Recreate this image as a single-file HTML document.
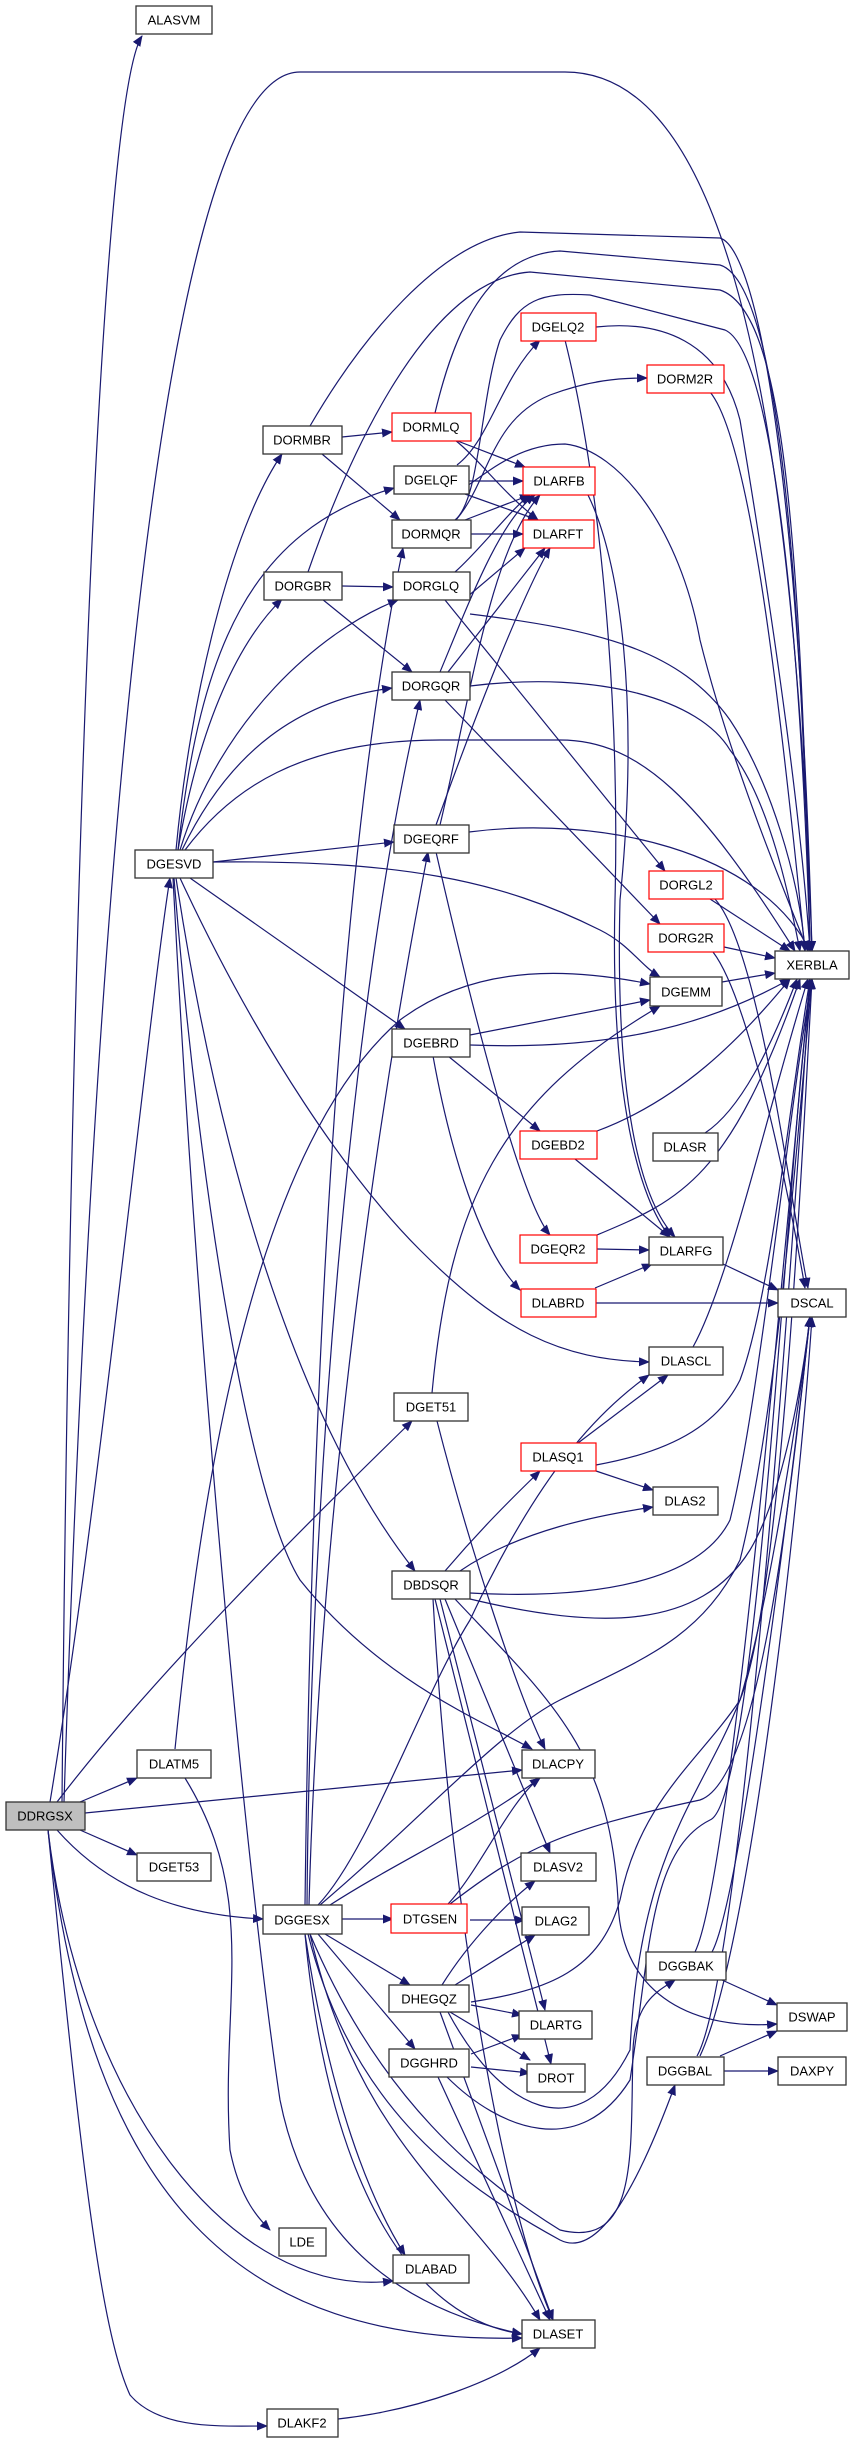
<!DOCTYPE html>
<html><head><meta charset="utf-8"><style>
html,body{margin:0;padding:0;background:#fff;}
svg{display:block;}
.e{fill:none;stroke:#191970;stroke-width:1.2;marker-end:url(#a);}
.n{fill:#fff;stroke:#333;stroke-width:1.3;}
.r{fill:#fff;stroke:#ff0000;stroke-width:1.2;}
.g{fill:#bfbfbf;stroke:#333;stroke-width:1.3;}
text{font-family:"Liberation Sans",sans-serif;font-size:13px;fill:#000;text-anchor:middle;dominant-baseline:central;}
</style></head><body>
<svg width="851" height="2444" viewBox="0 0 851 2444" xmlns="http://www.w3.org/2000/svg">
<defs><marker id="a" markerUnits="userSpaceOnUse" markerWidth="11" markerHeight="9" refX="10" refY="4.5" orient="auto"><path d="M0,0 L11,4.5 L0,9 z" fill="#191970"/></marker></defs>
<g>
<!-- DDRGSX -->
<path class="e" d="M62,1802 C70,900 100,100 142,36"/>
<path class="e" d="M64,1802 C90,1000 150,72 300,72 L565,72 C700,72 790,300 812,951"/>
<path class="e" d="M50,1802 C100,1500 150,1000 170,878"/>
<path class="e" d="M80,1802 L137,1778"/>
<path class="e" d="M80,1830 L137,1855"/>
<path class="e" d="M85,1813 L522,1770"/>
<path class="e" d="M57,1802 C150,1680 300,1530 412,1421"/>
<path class="e" d="M57,1830 C110,1890 180,1915 263,1919"/>
<path class="e" d="M48,1830 C80,2100 230,2300 393,2281"/>
<path class="e" d="M48,1830 C90,2200 240,2345 522,2338"/>
<path class="e" d="M48,1830 C80,2150 100,2330 130,2395 C160,2430 220,2426 267,2426"/>
<path class="e" d="M175,1749 C200,1500 250,1150 400,1020 C480,960 580,970 650,984"/>
<path class="e" d="M185,1778 C260,1900 220,2000 230,2150 C240,2200 260,2220 270,2230"/>
<path class="e" d="M338,2419 C420,2410 500,2380 540,2348"/>
<!-- DGESVD -->
<path class="e" d="M176,850 C190,700 230,530 282,454"/>
<path class="e" d="M178,850 C200,720 240,640 282,599"/>
<path class="e" d="M178,850 C200,650 250,530 394,488"/>
<path class="e" d="M180,850 C220,720 320,630 398,600"/>
<path class="e" d="M182,850 C230,750 300,700 392,688"/>
<path class="e" d="M213,862 L394,842"/>
<path class="e" d="M213,862 C400,860 500,880 600,930 C630,945 640,965 660,977"/>
<path class="e" d="M190,878 L405,1029"/>
<path class="e" d="M180,878 C260,1050 350,1180 420,1250 C500,1330 560,1360 649,1362"/>
<path class="e" d="M176,878 C210,1100 280,1400 415,1571"/>
<path class="e" d="M174,878 C200,1200 250,1500 300,1580 C380,1680 480,1720 532,1749"/>
<path class="e" d="M173,878 C200,1400 250,1900 280,2100 C300,2200 360,2300 522,2334"/>
<path class="e" d="M185,850 C230,790 300,740 440,740 L560,740 C640,740 700,800 795,951"/>
<!-- DORMBR / DORGBR -->
<path class="e" d="M342,437 L392,432"/>
<path class="e" d="M322,454 L400,520"/>
<path class="e" d="M310,426 C360,340 440,240 520,232 L720,238 C760,250 800,500 812,951"/>
<path class="e" d="M342,586 L393,587"/>
<path class="e" d="M322,599 L412,672"/>
<path class="e" d="M308,572 C340,480 420,280 530,272 L720,290 C780,310 800,500 810,951"/>
<!-- DORMLQ, DGELQF, DGELQ2 -->
<path class="e" d="M455,440 L525,467"/>
<path class="e" d="M455,440 C480,460 500,490 538,520"/>
<path class="e" d="M435,413 C450,350 480,255 560,251 L720,265 C770,280 800,500 810,951"/>
<path class="e" d="M469,481 L523,481"/>
<path class="e" d="M465,494 L538,520"/>
<path class="e" d="M457,465 C490,440 500,380 540,340"/>
<path class="e" d="M456,494 C490,470 520,444 565,444 C620,450 680,530 700,640 C730,760 780,880 808,951"/>
<path class="e" d="M565,340 C600,480 620,700 615,900 C610,1100 640,1200 670,1237"/>
<path class="e" d="M596,327 C660,320 720,340 740,420 C770,600 800,800 810,951"/>
<!-- DORMQR -->
<path class="e" d="M471,534 L523,534"/>
<path class="e" d="M465,520 L530,495"/>
<path class="e" d="M456,520 C490,480 490,420 550,395 C590,380 620,378 647,378"/>
<path class="e" d="M455,520 C480,500 480,400 500,340 C520,300 540,292 590,295 L725,330 C770,350 800,600 810,951"/>
<path class="e" d="M710,392 C750,440 780,700 805,951"/>
<!-- DORGLQ / DORGQR -->
<path class="e" d="M467,597 L525,548"/>
<path class="e" d="M455,572 C480,550 510,510 530,495"/>
<path class="e" d="M445,600 L665,871"/>
<path class="e" d="M470,614 C600,630 680,650 730,720 C770,780 800,880 805,951"/>
<path class="e" d="M448,672 L545,548"/>
<path class="e" d="M440,672 C470,600 500,520 535,495"/>
<path class="e" d="M445,700 L660,924"/>
<path class="e" d="M470,686 C600,670 700,700 730,750 C770,800 790,900 800,951"/>
<!-- DGEQRF -->
<path class="e" d="M436,825 C470,730 520,600 550,548"/>
<path class="e" d="M440,825 C470,700 490,550 540,495"/>
<path class="e" d="M436,852 C470,1000 520,1200 550,1235"/>
<path class="e" d="M469,832 C600,815 760,850 810,951"/>
<path class="e" d="M588,495 C620,560 640,700 620,900 C615,1100 640,1200 675,1237"/>
<!-- right column -->
<path class="e" d="M710,899 L790,951"/>
<path class="e" d="M715,899 C760,950 790,1200 808,1288"/>
<path class="e" d="M724,947 L775,958"/>
<path class="e" d="M713,952 C750,1000 790,1200 805,1288"/>
<path class="e" d="M722,982 L775,973"/>
<!-- DGEBRD -->
<path class="e" d="M470,1035 L650,1000"/>
<path class="e" d="M470,1045 C600,1050 700,1030 790,979"/>
<path class="e" d="M448,1056 L540,1131"/>
<path class="e" d="M433,1056 C450,1150 480,1250 520,1290"/>
<path class="e" d="M597,1131 C680,1100 740,1040 790,979"/>
<path class="e" d="M575,1159 L670,1237"/>
<path class="e" d="M705,1133 C740,1110 770,1050 797,979"/>
<path class="e" d="M597,1249 L649,1250"/>
<path class="e" d="M597,1235 C680,1200 730,1180 800,979"/>
<path class="e" d="M723,1264 L778,1290"/>
<path class="e" d="M595,1288 L652,1264"/>
<path class="e" d="M596,1303 L778,1303"/>
<path class="e" d="M693,1347 C730,1280 770,1100 808,979"/>
<!-- DLASQ1 / DBDSQR -->
<path class="e" d="M578,1443 L668,1375"/>
<path class="e" d="M596,1471 L653,1490"/>
<path class="e" d="M596,1465 C680,1450 720,1420 740,1380 C770,1300 790,1100 810,979"/>
<path class="e" d="M445,1571 C480,1530 510,1500 540,1471"/>
<path class="e" d="M460,1571 C520,1530 600,1515 653,1507"/>
<path class="e" d="M470,1593 C600,1600 700,1580 730,1520 C760,1400 790,1100 812,979"/>
<path class="e" d="M470,1599 C600,1630 700,1630 750,1550 C780,1500 800,1400 810,1317"/>
<path class="e" d="M445,1599 L550,1853"/>
<path class="e" d="M440,1599 L545,2010"/>
<path class="e" d="M435,1599 L551,2064"/>
<path class="e" d="M433,1599 C450,1900 500,2200 553,2320"/>
<path class="e" d="M455,1599 C550,1700 610,1750 618,1900 C620,2000 700,2030 777,2024"/>
<path class="e" d="M432,1393 C450,1200 500,1100 660,1006"/>
<path class="e" d="M437,1421 C470,1550 520,1700 545,1749"/>
<!-- DGGESX -->
<path class="e" d="M342,1919 L393,1919"/>
<path class="e" d="M325,1934 L410,1985"/>
<path class="e" d="M318,1934 L415,2049"/>
<path class="e" d="M330,1905 C400,1860 470,1830 540,1778"/>
<path class="e" d="M318,1905 C370,1850 420,1700 470,1620 C540,1470 600,1410 649,1375"/>
<path class="e" d="M320,1905 C420,1820 500,1730 560,1700 C640,1660 700,1640 740,1560 C780,1400 800,1100 812,979"/>
<path class="e" d="M305,1905 C310,1500 330,900 403,548"/>
<path class="e" d="M307,1905 C310,1500 350,1000 420,700"/>
<path class="e" d="M309,1905 C320,1500 380,1100 428,852"/>
<path class="e" d="M305,1934 C330,2100 370,2200 405,2255"/>
<path class="e" d="M305,1934 C330,2200 420,2320 522,2334"/>
<path class="e" d="M310,1934 C360,2150 470,2200 540,2320"/>
<path class="e" d="M308,1934 C350,2100 450,2180 560,2240 C600,2260 640,2180 675,2085"/>
<path class="e" d="M310,1934 C380,2100 480,2180 560,2230 C640,2250 630,2150 633,2050 C635,2000 660,1990 675,1980"/>
<!-- DTGSEN / DHEGQZ / DGGHRD -->
<path class="e" d="M470,1920 L525,1920"/>
<path class="e" d="M448,1904 C480,1870 510,1800 540,1778"/>
<path class="e" d="M450,1904 C520,1850 560,1830 700,1800 C760,1780 790,1500 810,1317"/>
<path class="e" d="M442,1985 C470,1940 510,1900 535,1881"/>
<path class="e" d="M455,1985 L535,1935"/>
<path class="e" d="M471,2005 L522,2015"/>
<path class="e" d="M450,2012 L530,2060"/>
<path class="e" d="M440,2012 L553,2320"/>
<path class="e" d="M471,2002 C550,1990 600,1970 620,1900 C640,1800 700,1760 740,1700 C780,1600 800,1200 812,979"/>
<path class="e" d="M448,2012 C500,2110 580,2150 630,2050 C640,1850 700,1800 740,1700 C770,1600 800,1400 810,1317"/>
<path class="e" d="M471,2054 L522,2035"/>
<path class="e" d="M471,2067 L530,2073"/>
<path class="e" d="M438,2077 L550,2320"/>
<path class="e" d="M447,2077 C500,2130 580,2160 630,2080 C650,1950 650,1850 710,1820 C760,1800 790,1100 812,979"/>
<!-- DGGBAK / DGGBAL -->
<path class="e" d="M722,1980 L777,2005"/>
<path class="e" d="M695,1952 C730,1880 780,1300 810,979"/>
<path class="e" d="M712,1952 C740,1900 790,1500 810,1317"/>
<path class="e" d="M720,2056 L777,2031"/>
<path class="e" d="M724,2071 L778,2071"/>
<path class="e" d="M697,2056 C740,1980 790,1300 810,979"/>
<path class="e" d="M700,2056 C750,1950 800,1500 812,1317"/>
</g>
<g>
<rect class="n" x="136" y="6" width="76" height="28"/><text x="174" y="20">ALASVM</text>
<rect class="n" x="263" y="426" width="79" height="28"/><text x="302" y="440">DORMBR</text>
<rect class="r" x="392" y="413" width="79" height="28"/><text x="431" y="427">DORMLQ</text>
<rect class="r" x="521" y="313" width="75" height="28"/><text x="558" y="327">DGELQ2</text>
<rect class="r" x="647" y="365" width="77" height="28"/><text x="685" y="379">DORM2R</text>
<rect class="n" x="394" y="466" width="75" height="28"/><text x="431" y="480">DGELQF</text>
<rect class="r" x="523" y="467" width="72" height="28"/><text x="559" y="481">DLARFB</text>
<rect class="n" x="392" y="520" width="79" height="28"/><text x="431" y="534">DORMQR</text>
<rect class="r" x="523" y="520" width="71" height="28"/><text x="558" y="534">DLARFT</text>
<rect class="n" x="264" y="572" width="78" height="28"/><text x="303" y="586">DORGBR</text>
<rect class="n" x="393" y="572" width="77" height="28"/><text x="431" y="586">DORGLQ</text>
<rect class="n" x="392" y="672" width="78" height="28"/><text x="431" y="686">DORGQR</text>
<rect class="n" x="394" y="825" width="75" height="28"/><text x="431" y="839">DGEQRF</text>
<rect class="n" x="135" y="850" width="78" height="28"/><text x="174" y="864">DGESVD</text>
<rect class="r" x="649" y="871" width="74" height="28"/><text x="686" y="885">DORGL2</text>
<rect class="r" x="648" y="924" width="76" height="28"/><text x="686" y="938">DORG2R</text>
<rect class="n" x="775" y="951" width="74" height="28"/><text x="812" y="965">XERBLA</text>
<rect class="n" x="650" y="977" width="72" height="29"/><text x="686" y="992">DGEMM</text>
<rect class="n" x="392" y="1029" width="78" height="28"/><text x="431" y="1043">DGEBRD</text>
<rect class="r" x="520" y="1131" width="77" height="28"/><text x="558" y="1145">DGEBD2</text>
<rect class="n" x="653" y="1133" width="65" height="28"/><text x="685" y="1147">DLASR</text>
<rect class="r" x="520" y="1235" width="77" height="28"/><text x="558" y="1249">DGEQR2</text>
<rect class="n" x="649" y="1237" width="74" height="28"/><text x="686" y="1251">DLARFG</text>
<rect class="n" x="778" y="1289" width="68" height="28"/><text x="812" y="1303">DSCAL</text>
<rect class="r" x="521" y="1289" width="75" height="28"/><text x="558" y="1303">DLABRD</text>
<rect class="n" x="649" y="1347" width="74" height="28"/><text x="686" y="1361">DLASCL</text>
<rect class="n" x="394" y="1393" width="74" height="28"/><text x="431" y="1407">DGET51</text>
<rect class="r" x="521" y="1443" width="75" height="28"/><text x="558" y="1457">DLASQ1</text>
<rect class="n" x="653" y="1487" width="65" height="28"/><text x="685" y="1501">DLAS2</text>
<rect class="n" x="392" y="1571" width="78" height="28"/><text x="431" y="1585">DBDSQR</text>
<rect class="n" x="137" y="1750" width="74" height="28"/><text x="174" y="1764">DLATM5</text>
<rect class="n" x="522" y="1750" width="73" height="28"/><text x="558" y="1764">DLACPY</text>
<rect class="g" x="6" y="1802" width="79" height="28"/><text x="45" y="1816">DDRGSX</text>
<rect class="n" x="137" y="1853" width="74" height="28"/><text x="174" y="1867">DGET53</text>
<rect class="n" x="521" y="1853" width="75" height="28"/><text x="558" y="1867">DLASV2</text>
<rect class="n" x="263" y="1905" width="79" height="29"/><text x="302" y="1920">DGGESX</text>
<rect class="r" x="391" y="1904" width="76" height="29"/><text x="430" y="1919">DTGSEN</text>
<rect class="n" x="522" y="1907" width="67" height="28"/><text x="556" y="1921">DLAG2</text>
<rect class="n" x="646" y="1952" width="80" height="28"/><text x="686" y="1966">DGGBAK</text>
<rect class="n" x="389" y="1985" width="80" height="27"/><text x="429" y="1999">DHEGQZ</text>
<rect class="n" x="777" y="2003" width="70" height="28"/><text x="812" y="2017">DSWAP</text>
<rect class="n" x="519" y="2011" width="73" height="28"/><text x="556" y="2025">DLARTG</text>
<rect class="n" x="389" y="2049" width="80" height="28"/><text x="429" y="2063">DGGHRD</text>
<rect class="n" x="647" y="2057" width="77" height="28"/><text x="685" y="2071">DGGBAL</text>
<rect class="n" x="778" y="2057" width="68" height="28"/><text x="812" y="2071">DAXPY</text>
<rect class="n" x="527" y="2064" width="58" height="28"/><text x="556" y="2078">DROT</text>
<rect class="n" x="279" y="2228" width="47" height="28"/><text x="302" y="2242">LDE</text>
<rect class="n" x="393" y="2255" width="76" height="28"/><text x="431" y="2269">DLABAD</text>
<rect class="n" x="522" y="2320" width="73" height="28"/><text x="558" y="2334">DLASET</text>
<rect class="n" x="267" y="2409" width="71" height="28"/><text x="302" y="2423">DLAKF2</text>
</g>
</svg>
</body></html>
